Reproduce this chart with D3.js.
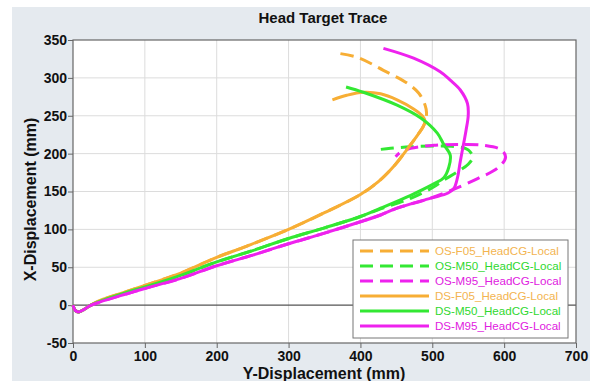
<!DOCTYPE html>
<html>
<head>
<meta charset="utf-8">
<script src="https://cdn.jsdelivr.net/npm/d3@7"></script>
<style>
  body { margin: 0; background: #fff; }
  svg { display: block; font-family: "Liberation Sans", Arial, sans-serif; }
</style>
</head>
<body>
<svg width="597" height="381"></svg>
<script>
// [Y-Displacement, X-Displacement] pairs
const osF05 = [[0,0],[3,-7],[8,-9],[15,-6],[23,-1],[37,6],[75,18],[100,26],[149,42],[200,63],[242,78],[300,100],[350,122],[400,146],[425,163],[448,185],[466,207],[480,225],[488,237],[491,246],[492,254],[490,264],[481,280],[465,293],[432,310],[396,327],[365,333]]
const osM50 = [[0,0],[3,-7],[8,-9],[15,-6],[23,-1],[37,5],[75,17],[100,24],[149,39],[200,57],[250,72],[300,88],[350,102],[400,117],[428,127],[470,141],[500,155],[516,165],[535,176],[550,186],[556,195],[550,205],[535,209],[502,210],[470,209],[442,207],[423,205]]
const osM95 = [[0,0],[3,-7],[8,-9],[15,-6],[23,-1],[37,4],[75,15],[100,22],[149,35],[200,52],[250,66],[300,81],[350,95],[400,110],[428,119],[451,128],[497,141],[525,151],[563,167],[591,181],[602,195],[596,205],[572,211],[535,212],[502,211],[470,207],[456,202],[449,196]]
const dsF05 = [[0,0],[3,-7],[8,-9],[15,-6],[23,-1],[37,6],[75,18],[100,26],[149,42],[200,63],[242,78],[300,100],[350,122],[400,146],[425,163],[448,185],[466,207],[480,225],[488,237],[490,243],[486,250],[474,259],[451,271],[428,279],[404,281],[381,277],[361,271]]
const dsM50 = [[0,0],[3,-7],[8,-9],[15,-6],[23,-1],[37,5],[75,17],[100,24],[149,39],[200,57],[250,72],[300,88],[350,102],[400,117],[428,128],[470,145],[502,160],[516,168],[523,182],[525,198],[516,212],[507,227],[484,247],[451,264],[404,281],[380,288]]
const dsM95 = [[0,0],[3,-7],[8,-9],[15,-6],[23,-1],[37,4],[75,15],[100,22],[149,35],[200,52],[250,66],[300,81],[350,95],[400,110],[428,119],[451,128],[497,141],[522,148],[530,154],[535,168],[539,190],[543,210],[547,231],[550,250],[549,266],[539,284],[525,297],[511,308],[474,326],[432,339]]

const seriesNames = ['OS-F05_HeadCG-Local', 'OS-M50_HeadCG-Local', 'OS-M95_HeadCG-Local',
                     'DS-F05_HeadCG-Local', 'DS-M50_HeadCG-Local', 'DS-M95_HeadCG-Local']
const seriesData = [osF05, osM50, osM95, dsF05, dsM50, dsM95]
const xTicks = [0, 100, 200, 300, 400, 500, 600, 700]
const yTicks = [-50, 0, 50, 100, 150, 200, 250, 300, 350]

const colors = ['#f7ae35', '#33e833', '#ee22ee', '#f7ae35', '#33e833', '#ee22ee']
const textColors = ['#f3b450', '#2fd82f', '#e020e0', '#f3b450', '#2fd82f', '#e020e0']

const svg = d3.select('svg')
const plotLeft = 73, plotRight = 576, plotTop = 40, plotBottom = 343

svg.append('rect').attr('x', 12).attr('y', 7).attr('width', 578).attr('height', 374).attr('fill', '#e5eaef')
svg.append('rect').attr('x', plotLeft).attr('y', plotTop).attr('width', plotRight - plotLeft).attr('height', plotBottom - plotTop).attr('fill', '#fff')

const x = d3.scaleLinear().domain([0, 700]).range([plotLeft, plotRight])
const y = d3.scaleLinear().domain([-50, 350]).range([plotBottom, plotTop])

// grid
svg.append('g').selectAll('line').data(xTicks.slice(1, -1)).join('line')
    .attr('x1', d => x(d)).attr('x2', d => x(d)).attr('y1', plotTop).attr('y2', plotBottom)
    .attr('stroke', '#dcdcdc').attr('stroke-width', 1)
svg.append('g').selectAll('line').data(yTicks.slice(1, -1)).join('line')
    .attr('x1', plotLeft).attr('x2', plotRight).attr('y1', d => y(d)).attr('y2', d => y(d))
    .attr('stroke', d => d === 0 ? '#555' : '#dcdcdc').attr('stroke-width', d => d === 0 ? 1.3 : 1)

// axes
const xAxis = svg.append('g').attr('transform', `translate(0, ${plotBottom})`)
    .call(d3.axisBottom(x).tickValues(xTicks).tickSize(5).tickSizeOuter(0).tickFormat(d => String(d)))
const yAxis = svg.append('g').attr('transform', `translate(${plotLeft}, 0)`)
    .call(d3.axisLeft(y).tickValues(yTicks).tickSize(5).tickSizeOuter(0).tickFormat(d => String(d)))
;[xAxis, yAxis].forEach(a => {
    a.select('.domain').remove()
    a.selectAll('.tick line').attr('stroke', '#666')
    a.selectAll('.tick text').attr('fill', '#111').style('font-size', '14px').style('font-weight', 'bold')
        .style('font-family', '"Liberation Sans", Arial, sans-serif')
})
xAxis.selectAll('.tick text').attr('dy', '0.95em').attr('y', 5)
yAxis.selectAll('.tick text').attr('x', -6)

svg.append('rect').attr('x', plotLeft).attr('y', plotTop).attr('width', plotRight - plotLeft).attr('height', plotBottom - plotTop)
    .attr('fill', 'none').attr('stroke', '#666').attr('stroke-width', 1.2)

// curves
const line = d3.line().x(d => x(d[0])).y(d => y(d[1])).curve(d3.curveCatmullRom.alpha(0.5))
const plot = svg.append('g')
seriesData.forEach((s, i) => {
    plot.append('path').datum(s).attr('d', line)
        .attr('fill', 'none').attr('stroke', colors[i]).attr('stroke-width', 3)
        .attr('stroke-linejoin', 'round')
        .attr('stroke-dasharray', i < 3 ? '13,7' : null)
})

// titles
svg.append('text').attr('x', 323).attr('y', 23).attr('text-anchor', 'middle')
    .style('font-size', '15px').style('font-weight', 'bold').attr('fill', '#111').text('Head Target Trace')
svg.append('text').attr('x', 324).attr('y', 379).attr('text-anchor', 'middle')
    .style('font-size', '16px').style('font-weight', 'bold').attr('fill', '#111').text('Y-Displacement (mm)')
svg.append('text').attr('transform', `translate(36, ${(plotTop + plotBottom) / 2 + 8}) rotate(-90)`).attr('text-anchor', 'middle')
    .style('font-size', '16px').style('font-weight', 'bold').attr('fill', '#111').text('X-Displacement (mm)')

// legend
const legend = svg.append('g').attr('transform', 'translate(353, 240)')
legend.append('rect').attr('width', 215).attr('height', 98).attr('fill', '#fff').attr('stroke', '#777').attr('stroke-width', 1)
const rows = legend.selectAll('g.row').data(seriesNames).join('g')
    .attr('transform', (d, i) => `translate(0, ${11 + i * 15})`)
rows.append('line').attr('x1', 7).attr('x2', 76)
    .attr('stroke', (d, i) => colors[i]).attr('stroke-width', 3)
    .attr('stroke-dasharray', (d, i) => i < 3 ? '13,7' : null)
rows.append('text').attr('x', 82).attr('dy', '0.35em').style('font-size', '11.6px')
    .attr('fill', (d, i) => textColors[i]).text(d => d)
</script>
</body>
</html>
